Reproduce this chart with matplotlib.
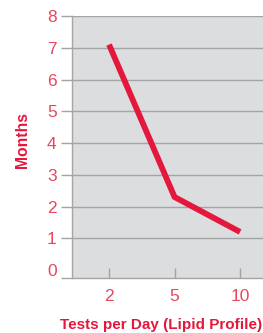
import matplotlib
matplotlib.use("Agg")
import matplotlib.pyplot as plt

categories = ["2", "5", "10"]
months = [7.1, 2.3, 1.2]
ytick_values = [0, 1, 2, 3, 4, 5, 6, 7, 8]

RED = "#E3183C"
LABEL_RED = "#E8465E"
GRID = "#A3A4A6"
BG = "#DCDDDF"

plt.rcParams['font.family'] = ['Liberation Sans', 'DejaVu Sans']

fig = plt.figure(figsize=(2.63, 3.33), dpi=100)
ax = fig.add_axes([72/263, 55/333, 191/263, 262/333])
ax.set_facecolor(BG)

x = list(range(len(categories)))
ax.plot(x, months, color=RED, lw=4.2, solid_capstyle='butt', solid_joinstyle='miter', zorder=3)

ax.set_xlim(-0.565, 2.35)
ax.set_ylim(-0.25, 8)

for v in ytick_values[1:]:
    ax.axhline(v, color=GRID, lw=1.0, zorder=1)

yt = [-0.25] + ytick_values
ax.set_yticks(yt)
ax.set_yticklabels([""] + [str(v) for v in ytick_values])
ax.tick_params(axis='y', direction='out', length=8, width=1.0, color=GRID,
               labelcolor=LABEL_RED, labelsize=12.5, pad=3)
ax.yaxis.get_major_ticks()[1].tick1line.set_visible(False)

ax.set_xticks(x)
ax.set_xticklabels(categories)
ax.tick_params(axis='x', direction='in', length=7, width=1.0, color=GRID,
               labelcolor=LABEL_RED, labelsize=12.5, pad=8)

for s in ['top', 'right']:
    ax.spines[s].set_visible(False)
for s in ['left', 'bottom']:
    ax.spines[s].set_color(GRID)
    ax.spines[s].set_linewidth(1.0)

ax.set_ylabel("Months", color=RED, fontweight='bold', fontsize=11.3)
ax.yaxis.set_label_coords(-49/191, (333-140-55)/262)
ax.set_xlabel("Tests per Day (Lipid Profile)", color=RED, fontweight='bold', fontsize=11)
ax.xaxis.set_label_coords((161-72)/191, -(325-278)/262)
ax.xaxis.label.set_va('center')
ax.yaxis.label.set_va('center')

fig.savefig("out.png", dpi=100)
